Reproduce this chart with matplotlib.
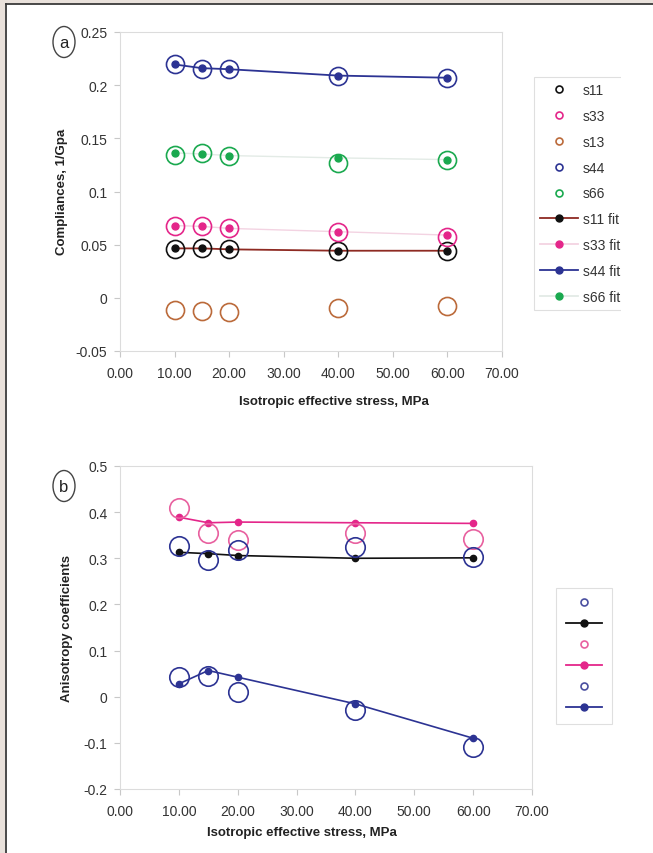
import matplotlib
matplotlib.use("Agg")
import matplotlib.pyplot as plt
from matplotlib.lines import Line2D
from matplotlib.patches import Ellipse, Rectangle

plt.rcParams['font.family'] = ['Liberation Sans', 'DejaVu Sans']

# ---- data ----
stress = [10, 15, 20, 40, 60]

s11 = [0.0458, 0.0465, 0.0458, 0.0443, 0.0437]
s33 = [0.068, 0.068, 0.0656, 0.0622, 0.0568]
s13 = [-0.0117, -0.0126, -0.0132, -0.0100, -0.0075]
s44 = [0.2195, 0.2155, 0.2150, 0.2085, 0.2070]
s66 = [0.1344, 0.1360, 0.1335, 0.1265, 0.1300]

s11_fit = [0.0465, 0.0465, 0.0456, 0.0443, 0.0443]
s33_fit = [0.0680, 0.0672, 0.0653, 0.0622, 0.0590]
s44_fit = [0.2195, 0.2160, 0.2150, 0.2090, 0.2070]
s66_fit = [0.1363, 0.1353, 0.1338, 0.1316, 0.1300]

# anisotropy coefficients
gam_meas = [0.327, 0.297, 0.3185, 0.3236, 0.3026]
gam_fit = [0.313, 0.310, 0.306, 0.300, 0.301]
eps_meas = [0.409, 0.3554, 0.340, 0.3547, 0.3417]
eps_fit = [0.389, 0.377, 0.3785, 0.377, 0.3756]
dlt_meas = [0.042, 0.0445, 0.0098, -0.028, -0.1095]
dlt_fit = [0.0279, 0.0568, 0.0423, -0.0155, -0.090]

xticks = [0, 10, 20, 30, 40, 50, 60, 70]
yticks_a = [-0.05, 0, 0.05, 0.1, 0.15, 0.2, 0.25]
yticks_b = [-0.2, -0.1, 0, 0.1, 0.2, 0.3, 0.4, 0.5]

BLACK = '#111111'
PINK = '#e4268a'
PINK_LIGHT = '#e8609f'
BROWN = '#bb6a3a'
NAVY = '#2c3393'
GREEN = '#1aa94f'
DARKRED = '#8e2a22'
TXT = '#333333'

W, H = 653, 854
fig = plt.figure(figsize=(W / 100, H / 100), dpi=100)
fig.patch.set_facecolor('white')

# page frame: beige strip and dark rule on top and left
fig.add_artist(Rectangle((0, 1 - 4.5 / H), 1, 4.5 / H, transform=fig.transFigure,
                         facecolor='#e9e1db', edgecolor='none'))
fig.add_artist(Rectangle((0, 0), 4.5 / W, 1, transform=fig.transFigure,
                         facecolor='#e9e1db', edgecolor='none'))
fig.add_artist(Line2D([5.5 / W, 1], [1 - 5.0 / H, 1 - 5.0 / H], transform=fig.transFigure,
                      color='#3a3a3a', lw=1.3))
fig.add_artist(Line2D([5.5 / W, 5.5 / W], [0, 1 - 5.0 / H], transform=fig.transFigure,
                      color='#3a3a3a', lw=1.3))


def px_axes(l, t, r, b):
    return fig.add_axes([l / W, 1 - b / H, (r - l) / W, (b - t) / H])


def style(ax, xmax, yticks, ylim):
    ax.set_xlim(0, xmax)
    ax.set_ylim(*ylim)
    ax.set_xticks(xticks)
    ax.set_xticklabels([f'{v:.2f}' for v in xticks])
    ax.set_yticks(yticks)
    ax.set_yticklabels([('%g' % v) for v in yticks])
    for s in ax.spines.values():
        s.set_color('#dcdcdc')
        s.set_linewidth(0.8)
    ax.tick_params(axis='both', colors='#c8c8c8', length=4, width=0.8,
                   labelcolor=TXT, labelsize=10, pad=5)
    ax.tick_params(axis='x', pad=7)


# ---------------- panel a ----------------
axa = px_axes(120, 33, 502, 352)
style(axa, 70, yticks_a, (-0.05, 0.25))

ms_open, ms_dot = 13, 5
axa.plot(stress, s11_fit, color=DARKRED, lw=1.3, zorder=2)
axa.plot(stress, s33_fit, color='#f3d3e2', lw=1.0, zorder=2)
axa.plot(stress, s44_fit, color=NAVY, lw=1.3, zorder=2)
axa.plot(stress, s66_fit, color='#e3ebe6', lw=1.0, zorder=2)

for vals, c in [(s11, BLACK), (s33, PINK), (s13, BROWN), (s44, NAVY), (s66, GREEN)]:
    axa.plot(stress, vals, ls='none', marker='o', ms=ms_open, mfc='none', mec=c, mew=1.2, zorder=3)

for vals, c in [(s11_fit, BLACK), (s33_fit, PINK), (s44_fit, NAVY), (s66_fit, GREEN)]:
    axa.plot(stress, vals, ls='none', marker='o', ms=ms_dot, mfc=c, mec=c, zorder=4)

fig.text(62 / W, 1 - 192 / H, 'Compliances, 1/Gpa', rotation=90, ha='center', va='center',
         fontsize=9.5, fontweight='bold', color='#222222')
fig.text(334 / W, 1 - 402 / H, 'Isotropic effective stress, MPa', ha='center', va='center',
         fontsize=9.5, fontweight='bold', color='#222222')

def open_h(c):
    return Line2D([], [], ls='none', marker='o', ms=5, mfc='none', mec=c, mew=1.2)

def fit_h(c, lc):
    return Line2D([], [], color=lc, lw=1.3, marker='o', ms=5, mfc=c, mec=c)

handles_a = [open_h(BLACK), open_h(PINK), open_h(BROWN), open_h(NAVY), open_h(GREEN),
             fit_h(BLACK, DARKRED), fit_h(PINK, '#f3d3e2'), fit_h(NAVY, NAVY), fit_h(GREEN, '#e3ebe6')]
labels_a = ['s11', 's33', 's13', 's44', 's66', 's11 fit', 's33 fit', 's44 fit', 's66 fit']
leg_a = fig.legend(handles_a, labels_a, loc='upper left', bbox_to_anchor=(534 / W, 1 - 78 / H),
                   bbox_transform=fig.transFigure, borderaxespad=0, fontsize=10,
                   labelspacing=0.85, handlelength=2.75, handletextpad=0.3, borderpad=0.45,
                   fancybox=False, frameon=True)
leg_a.get_frame().set_edgecolor('#d8d8d8')
leg_a.get_frame().set_linewidth(0.8)
for t in leg_a.get_texts():
    t.set_color(TXT)
# the chart area ends at x=620; anything of the legend beyond it is hidden
fig.add_artist(Rectangle((621 / W, 1 - 330 / H), (W - 621) / W, 260 / H, transform=fig.transFigure,
                         facecolor='white', edgecolor='none', zorder=20))

# ---------------- panel b ----------------
axb = px_axes(120, 467, 532, 790)
style(axb, 70, yticks_b, (-0.2, 0.5))

ms_open_b, ms_dot_b = 14, 4.5
axb.plot(stress, eps_fit, color=PINK, lw=1.2, marker='o', ms=ms_dot_b, mfc=PINK, mec=PINK, zorder=3)
axb.plot(stress, gam_fit, color=BLACK, lw=1.2, marker='o', ms=ms_dot_b, mfc=BLACK, mec=BLACK, zorder=3)
axb.plot(stress, dlt_fit, color=NAVY, lw=1.2, marker='o', ms=ms_dot_b, mfc=NAVY, mec=NAVY, zorder=3)
axb.plot(stress, eps_meas, ls='none', marker='o', ms=ms_open_b, mfc='none', mec=PINK_LIGHT, mew=1.2, zorder=4)
axb.plot(stress, gam_meas, ls='none', marker='o', ms=ms_open_b, mfc='none', mec=NAVY, mew=1.2, zorder=4)
axb.plot(stress, dlt_meas, ls='none', marker='o', ms=ms_open_b, mfc='none', mec=NAVY, mew=1.2, zorder=4)

fig.text(67 / W, 1 - 628 / H, 'Anisotropy coefficients', rotation=90, ha='center', va='center',
         fontsize=9.5, fontweight='bold', color='#222222')
fig.text(302 / W, 1 - 833 / H, 'Isotropic effective stress, MPa', ha='center', va='center',
         fontsize=9.5, fontweight='bold', color='#222222')

handles_b = [open_h('#4a4fa0'), fit_h(BLACK, BLACK), open_h(PINK_LIGHT), fit_h(PINK, PINK),
             open_h('#4a4fa0'), fit_h(NAVY, NAVY)]
leg_b = fig.legend(handles_b, [''] * 6, loc='upper left', bbox_to_anchor=(556 / W, 1 - 589 / H),
                   bbox_transform=fig.transFigure, borderaxespad=0, fontsize=9.5,
                   labelspacing=0.66, handlelength=2.8, handletextpad=0.0, borderpad=0.72,
                   fancybox=False, frameon=True)
leg_b.get_frame().set_edgecolor('#d8d8d8')
leg_b.get_frame().set_linewidth(0.8)

# panel letters in ellipses
for (cx, cy, letter) in [(64, 43, 'a'), (64, 487, 'b')]:
    fig.add_artist(Ellipse((cx / W, 1 - cy / H), 22 / W, 31 / H, transform=fig.transFigure,
                           facecolor='white', edgecolor='#444444', lw=1.0))
    fig.text(cx / W, 1 - (cy + 1) / H, letter, ha='center', va='center', fontsize=12, color='#222222')

fig.savefig('out.png', dpi=100)
